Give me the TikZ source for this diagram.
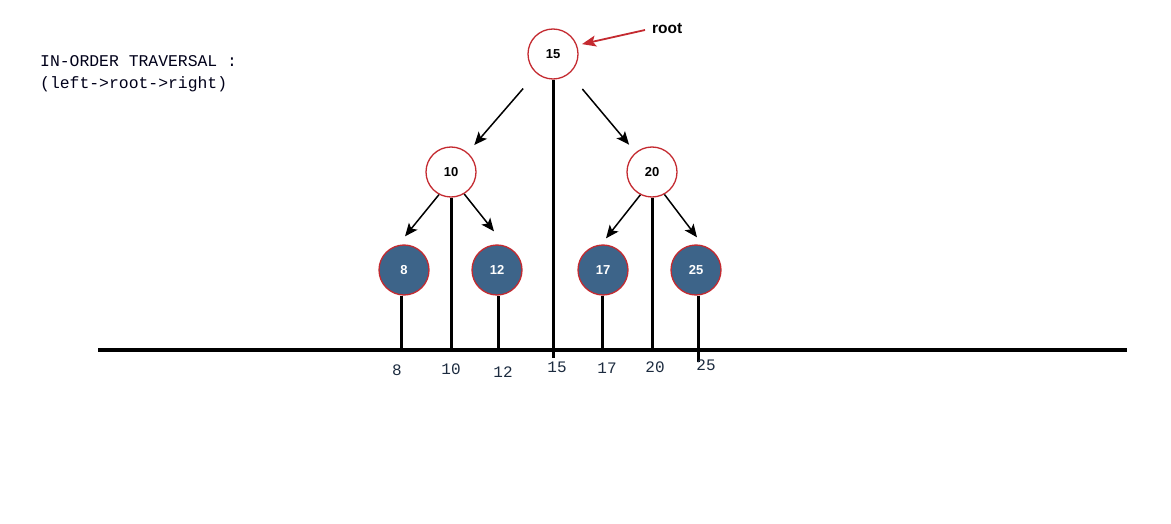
\documentclass[tikz,border=0pt]{standalone}
\usepackage{fontspec}
\setmainfont{Liberation Sans}
\newfontfamily\monof{Liberation Mono}
\usetikzlibrary{arrows.meta}
\definecolor{nodered}{HTML}{C42A30}
\definecolor{nodeblue}{HTML}{3D6489}
\definecolor{labnavy}{HTML}{1C2B3F}
\tikzset{
  emptynode/.style={circle,draw=nodered,line width=1.3pt,fill=white,minimum size=50pt,inner sep=0pt,font=\fontsize{13}{15}\selectfont\bfseries},
  fullnode/.style={circle,draw=nodered,line width=1.3pt,fill=nodeblue,text=white,minimum size=50pt,inner sep=0pt,font=\fontsize{13}{15}\selectfont\bfseries},
  arr/.style={-{Stealth[length=13pt,width=11pt,inset=3pt]},line width=1.5pt},
  stem/.style={line width=3pt},
  ticklab/.style={font=\monof\fontsize{16}{18}\selectfont,text=labnavy,inner sep=0pt}
}
\begin{document}
\begin{tikzpicture}[x=1pt,y=-1pt]
\useasboundingbox (0,0) rectangle (1171,524);
% title
\node[font=\monof\fontsize{16.4}{22}\selectfont,text=black!90!blue,anchor=north west,align=left,inner sep=0pt] (title) at (40,55) {IN-ORDER TRAVERSAL :\\(left->root->right)};
% nodes
\node[emptynode] (n15) at (553,54) {15};
\node[emptynode] (n10) at (451,172) {10};
\node[emptynode] (n20) at (652,172) {20};
\node[fullnode] (n8) at (404,270) {8};
\node[fullnode] (n12) at (497,270) {12};
\node[fullnode] (n17) at (603,270) {17};
\node[fullnode] (n25) at (696,270) {25};
% root label
\node[font=\fontsize{15.5}{17}\selectfont\bfseries,anchor=west,inner sep=0pt] (rootlab) at (652,29) {root};
\coordinate (rootstart) at (645,30);
\draw[-{Stealth[length=14pt,width=11pt,inset=3pt]},line width=1.8pt,draw=nodered,fill=nodered,shorten >=5pt] (rootstart) -- (n15.20);
% tree arrows
\draw[arr,shorten <=20pt,shorten >=10pt] (n15) -- (n10);
\draw[arr,shorten <=20pt,shorten >=10pt] (n15) -- (n20);
\draw[arr] (n10.242) -- ([yshift=8pt,xshift=1pt]n8.north);
\draw[arr] (n10.301) -- ([yshift=13pt,xshift=-3pt]n12.north);
\draw[arr] (n20.243) -- ([yshift=6pt,xshift=3pt]n17.north);
\draw[arr] (n20.299) -- ([yshift=7pt,xshift=1pt]n25.north);
% axis
\coordinate (axl) at (98,350);
\coordinate (axr) at (1127,350);
\draw[line width=4pt] (axl) -- (axr);
% stems
\coordinate (t8) at (401,350);
\coordinate (t10) at (451,350);
\coordinate (t12) at (498,350);
\coordinate (t15) at (553,358);
\coordinate (t17) at (602,350);
\coordinate (t20) at (652,350);
\coordinate (t25) at (698,362);
\draw[stem] (n8.south -| t8) -- (t8);
\draw[stem] (n10.south) -- (t10);
\draw[stem] (n12.south -| t12) -- (t12);
\draw[stem] (n15.south) -- (t15);
\draw[stem] (n17.south -| t17) -- (t17);
\draw[stem] (n20.south) -- (t20);
\draw[stem] (n25.south -| t25) -- (t25);
% tick labels
\node[ticklab] (l8) at (397,370) {8};
\node[ticklab] (l10) at (451,369) {10};
\node[ticklab] (l12) at (503,372) {12};
\node[ticklab] (l15) at (557,367) {15};
\node[ticklab] (l17) at (607,368) {17};
\node[ticklab] (l20) at (655,367) {20};
\node[ticklab] (l25) at (706,365) {25};
\end{tikzpicture}
\end{document}
